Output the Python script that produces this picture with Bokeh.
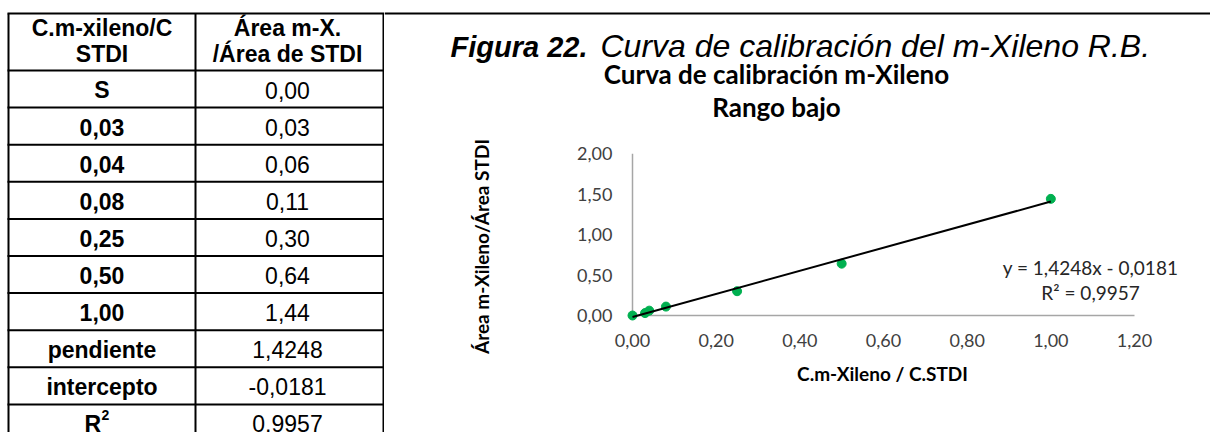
from bokeh.plotting import figure
from bokeh.layouts import row, column
from bokeh.models import Range1d, FixedTicker, CustomJSTickFormatter, Label, LinearAxis
from bokeh.core.properties import value
from bokeh.embed import file_html
from bokeh.resources import INLINE

# ---------------- data ----------------
conc = [0.00, 0.03, 0.04, 0.08, 0.25, 0.50, 1.00]
conc_labels = ["S", "0,03", "0,04", "0,08", "0,25", "0,50", "1,00"]
ratio = [0.00, 0.03, 0.06, 0.11, 0.30, 0.64, 1.44]
slope = 1.4248
intercept = -0.0181
r_squared = 0.9957
x_ticks = [0.0, 0.2, 0.4, 0.6, 0.8, 1.0, 1.2]
y_ticks = [0.0, 0.5, 1.0, 1.5, 2.0]
header_col1 = ["C.m-xileno/C", "STDI"]
header_col2 = ["Área m-X.", "/Área de STDI"]
stat_labels = ["pendiente", "intercepto"]
caption_bold = "Figura 22."
caption_rest = "Curva de calibración del m-Xileno R.B."
chart_title = ["Curva de calibración m-Xileno", "Rango bajo"]
x_title = "C.m-Xileno / C.STDI"
y_title = "Área m-Xileno/Área STDI"


def fmt(v, d):
    return f"{v:.{d}f}".replace(".", ",")


ARIAL = value("Liberation Sans")
CAL = "Lato"
H = 432
W_TAB = 384
W_CH = 1210 - W_TAB

# ---------------- table ----------------
tab = figure(width=W_TAB, height=H, x_range=Range1d(0, W_TAB), y_range=Range1d(H, 0),
             x_axis_type=None, y_axis_type=None, toolbar_location=None,
             output_backend="svg", min_border=0, outline_line_color=None, title=None)
tab.background_fill_color = "white"
tab.border_fill_color = "white"
tab.frame_align = False

L, M, R = 8, 195, 383
top, head_bot, row_h = 13, 70, 37.1
col1 = conc_labels + stat_labels
col2 = [fmt(v, 2) for v in ratio] + [fmt(slope, 4), fmt(intercept, 4), fmt(r_squared, 4)]
n_rows = len(col2)
ys = [top] + [head_bot + k * row_h for k in range(n_rows)]
tab.segment(x0=[L] * len(ys), y0=ys, x1=[R] * len(ys), y1=ys,
            line_color="black", line_width=2, line_cap="square")
tab.segment(x0=[L, M, R], y0=[top] * 3, x1=[L, M, R], y1=[H + 5] * 3,
            line_color="black", line_width=2)

c1x = (L + M) / 2
c2x = (M + R) / 2 - 2
fs_tab = "23px"
tshift = 7
tab.text(x=[c1x, c1x], y=[34 - tshift, 60 - tshift], text=header_col1, text_font=ARIAL,
         text_font_style="bold", text_font_size=fs_tab, text_align="center",
         text_baseline="alphabetic", text_color="black")
tab.text(x=[c2x, c2x], y=[34 - tshift, 60 - tshift], text=header_col2, text_font=ARIAL,
         text_font_style="bold", text_font_size=fs_tab, text_align="center",
         text_baseline="alphabetic", text_color="black")
base = [head_bot + (k + 0.5) * row_h + 8 - tshift for k in range(n_rows)]
tab.text(x=[c1x] * len(col1), y=base[:len(col1)], text=col1, text_font=ARIAL, text_font_style="bold",
         text_font_size=fs_tab, text_align="center", text_baseline="alphabetic", text_color="black")
tab.text(x=[c2x] * n_rows, y=base, text=col2, text_font=ARIAL,
         text_font_size=fs_tab, text_align="center", text_baseline="alphabetic", text_color="black")
tab.text(x=[c1x - 1], y=[base[-1]], text=["R"], text_font=ARIAL, text_font_style="bold",
         text_font_size=fs_tab, text_align="right", text_baseline="alphabetic", text_color="black")
tab.text(x=[c1x - 0.5], y=[base[-1] - 9], text=["2"], text_font=ARIAL, text_font_style="bold",
         text_font_size="14px", text_align="left", text_baseline="alphabetic", text_color="black")

# ---------------- head (caption + chart title) ----------------
H_HEAD = 125
head = figure(width=W_CH, height=H_HEAD, x_range=Range1d(0, W_CH), y_range=Range1d(H_HEAD, 0),
              x_axis_type=None, y_axis_type=None, toolbar_location=None,
              output_backend="svg", min_border=0, outline_line_color=None, title=None)
head.border_fill_color = "white"
head.frame_align = False
head.segment(x0=[0], y0=[top], x1=[W_CH], y1=[top], line_color="black", line_width=2)
head.text(x=[66], y=[54 - 8], text=[caption_bold], text_font=ARIAL, text_font_style="bold italic",
          text_font_size="29px", text_align="left", text_baseline="alphabetic", text_color="black")
head.text(x=[216], y=[54 - 9], text=[caption_rest], text_font=ARIAL, text_font_style="italic",
          text_font_size="32px", text_align="left", text_baseline="alphabetic", text_color="black")
head.text(x=[392, 392], y=[82 - 9, 115 - 9], text=chart_title, text_font=value(CAL),
          text_font_style="bold", text_font_size="26px", text_align="center",
          text_baseline="alphabetic", text_color="black")

# ---------------- chart ----------------
H_CH = H - H_HEAD
px_x = 418.33
px_y = 81.0
pad_l, pad_r, pad_b = 62, 60, 24
ch = figure(width=W_CH, height=H_CH,
            x_range=Range1d(-pad_l / px_x, x_ticks[-1] + pad_r / px_x),
            y_range=Range1d(-pad_b / px_y, y_ticks[-1]),
            x_axis_type=None, y_axis_type=None, toolbar_location=None, output_backend="svg",
            min_border_left=248 - pad_l, min_border_right=76 - pad_r, min_border_top=28,
            min_border_bottom=117 - pad_b, outline_line_color=None, title=None)
ch.background_fill_color = "white"
ch.border_fill_color = "white"
ch.frame_align = False

tick_fmt = CustomJSTickFormatter(code="return tick.toFixed(2).replace('.', ',');")
common = dict(axis_line_color=None,
              major_tick_line_color=None, minor_tick_line_color=None,
              major_tick_in=0, major_tick_out=0,
              major_label_text_font=CAL, major_label_text_font_size="18px",
              major_label_text_color="#404040",
              axis_label_text_font=CAL, axis_label_text_font_style="bold",
              axis_label_text_font_size="19px", axis_label_text_color="black",
              formatter=tick_fmt)
xaxis = LinearAxis(ticker=FixedTicker(ticks=x_ticks), axis_label=x_title,
                   major_label_standoff=18 - pad_b, axis_label_standoff=12, **common)
yaxis = LinearAxis(ticker=FixedTicker(ticks=y_ticks), axis_label=y_title,
                   major_label_standoff=20 - pad_l, axis_label_standoff=81, **common)
ch.add_layout(xaxis, "below")
ch.add_layout(yaxis, "left")

# axis lines at x=0 and y=0
ch.segment(x0=[x_ticks[0], x_ticks[0]], y0=[y_ticks[0], y_ticks[0]],
           x1=[x_ticks[-1], x_ticks[0]], y1=[y_ticks[0], y_ticks[-1]],
           line_color="#a6a6a6", line_width=1.5)

tx = [min(conc), max(conc)]
ty = [slope * x + intercept for x in tx]
ch.scatter(conc, ratio, size=9, fill_color="#00b050", line_color="#00b050")
ch.line(tx, ty, line_color="black", line_width=2)

sign = "-" if intercept < 0 else "+"
eq_text = f"y = {fmt(slope, 4)}x {sign} {fmt(abs(intercept), 4)}"
r2_text = f"R² = {fmt(r_squared, 4)}"
for txt, yy in ((eq_text, 0.52 + 6 / px_y), (r2_text, 0.21 + 6 / px_y)):
    ch.add_layout(Label(x=1.095, y=yy, text=txt, text_font=CAL, text_font_size="19px",
                        text_color="#262626", text_align="center", text_baseline="alphabetic"))

layout = row(tab, column(head, ch, spacing=0), spacing=0)
open("out.html", "w").write(file_html(layout, INLINE, title="Curva de calibración"))
